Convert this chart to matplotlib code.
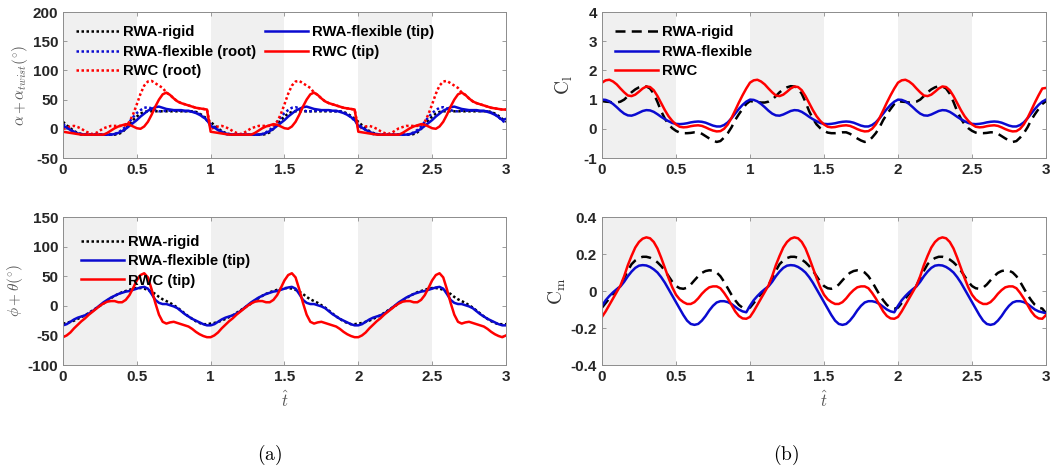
import numpy as np
import matplotlib
matplotlib.use('Agg')
import matplotlib.pyplot as plt
from matplotlib.ticker import FormatStrFormatter

plt.rcParams['font.family'] = ['Liberation Sans', 'DejaVu Sans']
plt.rcParams['mathtext.fontset'] = 'cm'

t_step = 0.025
shade = [(0, 0.5), (1, 1.5), (2, 2.5)]

# (a) top: alpha + alpha_twist (deg)
aoa_rigid = [12, 6, 1, -4, -7, -9, -10, -10, -10, -10, -10, -10, -10, -10, -10, -9,
             -6, 0, 8, 15, 21, 26, 29, 30, 30, 30, 30, 30, 30, 30, 30, 30,
             30, 30, 30, 30, 29, 26, 22, 17]
aoa_flex_root = [8, 3, -2, -6, -9, -10, -10, -10, -10, -10, -10, -10, -10, -10, -9, -6,
                 -2, 4, 12, 20, 27, 32, 36, 37, 35, 32, 30, 30, 31, 31, 31, 31,
                 31, 30, 30, 30, 28, 25, 20, 14]
aoa_flex_tip = [5, 2, -2, -5, -8, -9, -10, -10, -10, -10, -10, -10, -10, -10, -9, -7,
                -4, 0, 5, 10, 15, 21, 26, 31, 34, 37, 38, 36, 34, 33, 32, 32,
                32, 31, 31, 29, 27, 24, 20, 15]
aoa_rwc_root = [0, 2, 4, 5, 3, 0, -4, -7, -9, -7, -3, 1, 3, 5, 5, 5,
                5, 6, 12, 25, 42, 60, 74, 81, 82, 78, 74, 70, 62, 58, 52, 47,
                44, 42, 40, 38, 36, 35, 34, 33]
aoa_rwc_tip = [-5, -6, -7, -8, -9, -10, -10, -10, -10, -10, -10, -10, -7, -3, 1, 4,
               6, 8, 7, 4, 1, 0, 4, 12, 24, 38, 50, 59, 62, 58, 52, 47,
               44, 42, 40, 38, 36, 35, 34, 33]
aoa_end = [12, 10, 17, 33, 33]

# (a) bottom: phi + theta (deg)
pt_rigid = [-30, -29, -27, -25, -22, -19, -16, -12, -8, -4, 0, 4, 9, 13, 17, 20,
            23, 25, 27, 29, 30, 30, 29, 27, 24, 20, 15, 11, 8, 5, 1, -3,
            -8, -13, -18, -22, -26, -29, -31, -31]
pt_flex = [-33, -31, -27, -23, -20, -18, -16, -13, -9, -4, 1, 6, 10, 14, 17, 20,
           22, 24, 25, 27, 29, 31, 32, 29, 20, 10, 5, 3, 3, 1, -1, -4,
           -9, -14, -18, -22, -25, -28, -31, -33]
pt_rwc = [-53, -50, -45, -38, -32, -26, -21, -15, -10, -5, 0, 4, 7, 8, 8, 6,
          6, 10, 18, 30, 43, 52, 55, 48, 28, 5, -15, -27, -30, -28, -27, -29,
          -31, -33, -35, -39, -44, -48, -51, -53]
pt_end = [-31, -33, -50]

# (b) top: C_l
cl_rigid = [0.95, 0.93, 0.92, 0.9, 0.9, 0.93, 1.0, 1.12, 1.25, 1.35, 1.42, 1.46, 1.45, 1.38, 1.2, 0.92,
            0.6, 0.35, 0.15, 0.02, -0.07, -0.13, -0.15, -0.15, -0.14, -0.12, -0.12, -0.17, -0.25, -0.33, -0.4, -0.45,
            -0.42, -0.3, -0.15, 0.05, 0.3, 0.5, 0.68, 0.85]
cl_flex = [1.0, 0.99, 0.94, 0.85, 0.74, 0.62, 0.52, 0.46, 0.45, 0.49, 0.55, 0.61, 0.64, 0.63, 0.58, 0.5,
           0.41, 0.33, 0.26, 0.2, 0.17, 0.16, 0.17, 0.19, 0.22, 0.24, 0.25, 0.24, 0.21, 0.16, 0.11, 0.08,
           0.08, 0.13, 0.22, 0.36, 0.52, 0.68, 0.82, 0.93]
cl_rwc = [1.58, 1.66, 1.68, 1.62, 1.52, 1.38, 1.25, 1.14, 1.12, 1.17, 1.27, 1.38, 1.45, 1.43, 1.32, 1.12,
          0.88, 0.64, 0.43, 0.27, 0.15, 0.07, 0.05, 0.06, 0.09, 0.11, 0.12, 0.1, 0.05, -0.01, -0.06, -0.09,
          -0.08, 0.0, 0.15, 0.37, 0.63, 0.9, 1.15, 1.38]
cl_end = [0.95, 1.0, 1.4]

# (b) bottom: C_m
cm_rigid = [-0.09, -0.065, -0.04, -0.015, 0.005, 0.03, 0.07, 0.11, 0.145, 0.165, 0.178, 0.185, 0.185, 0.18, 0.17, 0.155,
            0.135, 0.11, 0.08, 0.05, 0.027, 0.015, 0.012, 0.018, 0.035, 0.058, 0.08, 0.098, 0.108, 0.112, 0.11, 0.1,
            0.08, 0.05, 0.015, -0.02, -0.05, -0.075, -0.09, -0.095]
cm_flex = [-0.08, -0.05, -0.027, -0.007, 0.01, 0.025, 0.05, 0.08, 0.105, 0.125, 0.137, 0.14, 0.138, 0.13, 0.117, 0.1,
           0.075, 0.045, 0.01, -0.025, -0.06, -0.095, -0.13, -0.16, -0.178, -0.183, -0.178, -0.16, -0.135, -0.105, -0.08, -0.062,
           -0.055, -0.055, -0.06, -0.07, -0.085, -0.1, -0.11, -0.115]
cm_rwc = [-0.14, -0.11, -0.075, -0.04, -0.005, 0.03, 0.08, 0.14, 0.19, 0.235, 0.265, 0.283, 0.29, 0.285, 0.265, 0.23,
          0.18, 0.125, 0.07, 0.02, -0.02, -0.045, -0.06, -0.07, -0.07, -0.06, -0.04, -0.015, 0.005, 0.02, 0.025, 0.025,
          0.015, -0.01, -0.04, -0.075, -0.11, -0.135, -0.148, -0.15]
cm_end = [-0.12, -0.12, -0.13]

RED = '#ff0000'
BLUE = '#0a0ad0'
TXT = '#262626'


def full(period, end):
    return np.append(np.tile(period, 3), end)


n = len(aoa_rigid)
t = np.arange(3 * n + 1) * t_step

dot = (0, (1, 1))
dash = (0, (4, 2.5))

fig = plt.figure(figsize=(10.57, 4.69), dpi=100)
ax_tl = fig.add_axes([0.0596, 0.6631, 0.4191, 0.3113])
ax_tr = fig.add_axes([0.5695, 0.6631, 0.4201, 0.3113])
ax_bl = fig.add_axes([0.0596, 0.2217, 0.4191, 0.3156])
ax_br = fig.add_axes([0.5695, 0.2217, 0.4201, 0.3156])

leg_kw = dict(frameon=False, prop={'weight': 'bold', 'size': 10.7}, handlelength=2.9,
              handletextpad=0.25, labelspacing=0.36, loc='upper left')

# (a) top
ax = ax_tl
h1, = ax.plot(t, full(aoa_rigid, aoa_end[0]), color='k', ls=dot, lw=1.8, label='RWA-rigid')
h2, = ax.plot(t, full(aoa_flex_root, aoa_end[1]), color=BLUE, ls=dot, lw=1.8, label='RWA-flexible (root)')
h3, = ax.plot(t, full(aoa_rwc_root, aoa_end[3]), color=RED, ls=dot, lw=1.8, label='RWC (root)')
h4, = ax.plot(t, full(aoa_flex_tip, aoa_end[2]), color=BLUE, lw=1.8, label='RWA-flexible (tip)')
h5, = ax.plot(t, full(aoa_rwc_tip, aoa_end[4]), color=RED, lw=1.8, label='RWC (tip)')
ax.set_ylim(-50, 200)
ax.set_yticks(np.arange(-50, 201, 50))
ax.set_ylabel(r'$\alpha+\alpha_{twist}(^{\circ})$', color='#555555', fontsize=11, labelpad=2)
ax.legend(handles=[h1, h2, h3, h4, h5], ncol=2, columnspacing=0.6, borderaxespad=0.5, **leg_kw)

# (a) bottom
ax = ax_bl
ax.plot(t, full(pt_rigid, pt_end[0]), color='k', ls=dot, lw=1.8, label='RWA-rigid')
ax.plot(t, full(pt_flex, pt_end[1]), color=BLUE, lw=1.8, label='RWA-flexible (tip)')
ax.plot(t, full(pt_rwc, pt_end[2]), color=RED, lw=1.8, label='RWC (tip)')
ax.set_ylim(-100, 150)
ax.set_yticks(np.arange(-100, 151, 50))
ax.set_ylabel(r'$\phi+\theta(^{\circ})$', color='#555555', fontsize=11, labelpad=2)
ax.set_xlabel(r'$\hat{t}$', color='#555555', fontsize=12, labelpad=4)
ax.legend(borderaxespad=0.8, **leg_kw)

# (b) top
ax = ax_tr
ax.plot(t, full(cl_rigid, cl_end[0]), color='k', ls=dash, lw=1.8, label='RWA-rigid')
ax.plot(t, full(cl_flex, cl_end[1]), color=BLUE, lw=1.8, label='RWA-flexible')
ax.plot(t, full(cl_rwc, cl_end[2]), color=RED, lw=1.8, label='RWC')
ax.set_ylim(-1, 4)
ax.set_yticks(np.arange(-1, 5, 1))
ax.set_ylabel(r'$\mathrm{C_l}$', color='#333333', fontsize=14, labelpad=6)
ax.legend(borderaxespad=0.5, **leg_kw)

# (b) bottom
ax = ax_br
ax.plot(t, full(cm_rigid, cm_end[0]), color='k', ls=dash, lw=1.8)
ax.plot(t, full(cm_flex, cm_end[1]), color=BLUE, lw=1.8)
ax.plot(t, full(cm_rwc, cm_end[2]), color=RED, lw=1.8)
ax.set_ylim(-0.4, 0.4)
ax.set_yticks([-0.4, -0.2, 0, 0.2, 0.4])
ax.set_ylabel(r'$\mathrm{C_m}$', color='#333333', fontsize=14, labelpad=2)
ax.set_xlabel(r'$\hat{t}$', color='#555555', fontsize=12, labelpad=4)

for ax in [ax_tl, ax_tr, ax_bl, ax_br]:
    for a, b in shade:
        ax.axvspan(a, b, color='#f0f0f0', lw=0, zorder=0)
    ax.set_xlim(0, 3)
    ax.set_xticks(np.arange(0, 3.01, 0.5))
    ax.xaxis.set_major_formatter(FormatStrFormatter('%g'))
    ax.yaxis.set_major_formatter(FormatStrFormatter('%g'))
    ax.tick_params(direction='in', length=3, width=0.6, colors='#8c8c8c',
                   labelcolor=TXT, labelsize=11, top=True, right=True)
    for lab in ax.get_xticklabels() + ax.get_yticklabels():
        lab.set_fontweight('bold')
    for s in ax.spines.values():
        s.set_color('#8c8c8c')
        s.set_linewidth(0.7)

fig.text(0.2554, 0.03, r'$\mathrm{(a)}$', fontsize=14, ha='center', va='center')
fig.text(0.7436, 0.03, r'$\mathrm{(b)}$', fontsize=14, ha='center', va='center')

fig.savefig('out.png', dpi=100)
